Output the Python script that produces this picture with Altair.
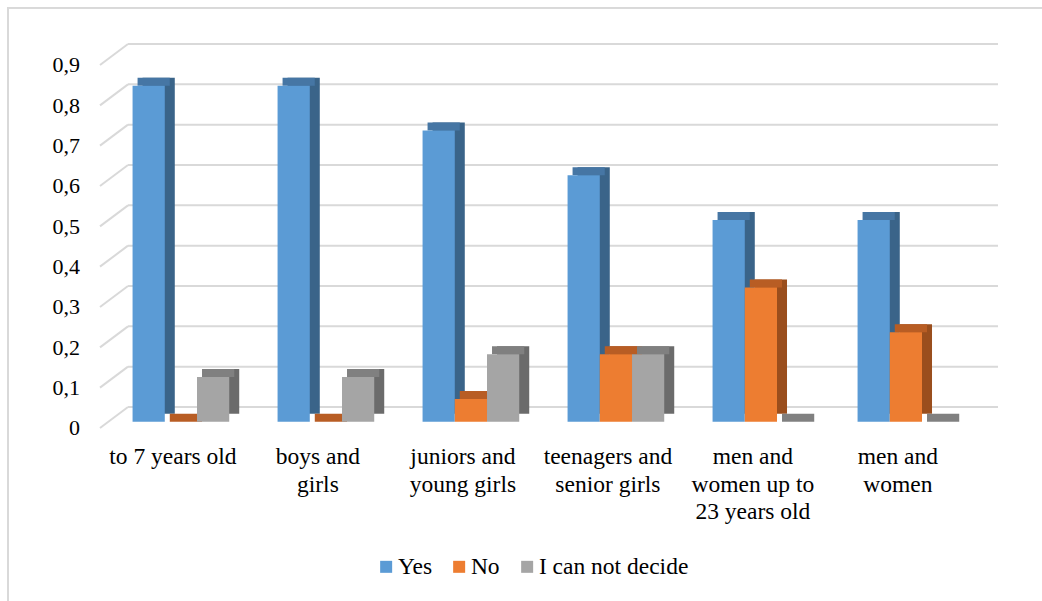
import altair as alt
import pandas as pd

# ---- data ----
categories = [
    "to 7 years old",
    "boys and\ngirls",
    "juniors and\nyoung girls",
    "teenagers and\nsenior girls",
    "men and\nwomen up to\n23 years old",
    "men and\nwomen",
]
series_names = ["Yes", "No", "I can not decide"]
yes_vals = [0.833, 0.833, 0.722, 0.611, 0.5, 0.5]
no_vals = [0.0, 0.0, 0.056, 0.167, 0.333, 0.222]
undecided_vals = [0.111, 0.111, 0.167, 0.167, 0.0, 0.0]
tick_values = [0, 0.1, 0.2, 0.3, 0.4, 0.5, 0.6, 0.7, 0.8, 0.9]

front_colors = ["#5B9BD5", "#ED7D31", "#A5A5A5"]
top_colors = ["#4676A4", "#B85D24", "#808080"]
side_colors = ["#3A6489", "#9A4E1D", "#6B6B6B"]

rows = []
for s, vals in zip(series_names, [yes_vals, no_vals, undecided_vals]):
    for c, v in zip(categories, vals):
        rows.append({"category": c, "series": s, "value": v})
df = pd.DataFrame(rows)
grid_df = pd.DataFrame({"tick": tick_values})

W, H = 870, 363
FONT = "Liberation Serif"
FS_Y = 22
FS_X = 23.5
GRID = "#D9D9D9"
# 3D geometry (pixels)
BACK_DX, BACK_DY = 19.6, -14.7
FRONT_DX, FRONT_DY = -8.4, 6.3
DEPTH_DX, DEPTH_DY = 10, -8


def x_enc(shift, show_axis):
    axis = alt.Axis(
        title=None, domain=False, ticks=False, tickSize=0, labelAngle=0,
        labelFont=FONT, labelFontSize=FS_X, labelColor="#000000",
        labelPadding=23, labelOffset=-8, labelBaseline="top",
        labelLineHeight=27.5, labelExpr="split(datum.label, '\\n')",
        labelLimit=300,
    ) if show_axis else None
    return alt.X(
        "category:N",
        sort=categories,
        scale=alt.Scale(paddingInner=1 / 3, paddingOuter=1 / 6,
                        range=[shift, W + shift]),
        axis=axis,
    )


xoff_enc = alt.XOffset("series:N", sort=series_names,
                       scale=alt.Scale(paddingInner=0, paddingOuter=0))
y_scale = alt.Scale(domain=[0, 0.9], nice=False, zero=True)
y_axis = alt.Axis(
    title=None, domain=False, ticks=False, tickSize=0, grid=False,
    values=tick_values, labelFont=FONT, labelFontSize=FS_Y, labelColor="#000000",
    labelPadding=29, labelOffset=6,
    labelExpr="datum.value == 0 ? '0' : replace(format(datum.value, '.1f'), '.', ',')",
)

gridlines = alt.Chart(grid_df).mark_rule(
    color=GRID, strokeWidth=2, xOffset=BACK_DX, x2Offset=BACK_DX, yOffset=BACK_DY
).encode(
    y=alt.Y("tick:Q", scale=y_scale, axis=y_axis),
    x=alt.value(0), x2=alt.value(W),
)

diagonals = alt.Chart(grid_df).mark_rule(
    color=GRID, strokeWidth=2, xOffset=FRONT_DX, x2Offset=BACK_DX,
    yOffset=FRONT_DY, y2Offset=BACK_DY
).encode(
    y=alt.Y("tick:Q", scale=y_scale, axis=y_axis),
    y2="tick:Q",
    x=alt.value(0), x2=alt.value(0),
)

frame_left = alt.Chart(grid_df).mark_rule(color=GRID, strokeWidth=1.5).encode(
    x=alt.value(-100.5), y=alt.value(-51), y2=alt.value(560)
)
frame_top = alt.Chart(grid_df).mark_rule(color=GRID, strokeWidth=1.5).encode(
    y=alt.value(-51), x=alt.value(-100.5), x2=alt.value(960)
)

side = alt.Chart(df).mark_bar(
    yOffset=DEPTH_DY, y2Offset=DEPTH_DY
).encode(
    x=x_enc(DEPTH_DX, False), xOffset=xoff_enc,
    y=alt.Y("value:Q", scale=y_scale, axis=y_axis),
    color=alt.Color("series:N", sort=series_names, legend=None,
                    scale=alt.Scale(domain=series_names, range=side_colors)),
)

top = alt.Chart(df).mark_bar(
    yOffset=DEPTH_DY, y2Offset=0
).encode(
    x=x_enc(DEPTH_DX / 2, False), xOffset=xoff_enc,
    y=alt.Y("value:Q", scale=y_scale, axis=y_axis),
    y2="value:Q",
    color=alt.Color("series:N", sort=series_names, legend=None,
                    scale=alt.Scale(domain=series_names, range=top_colors)),
)

front = alt.Chart(df).mark_bar().encode(
    x=x_enc(0, True), xOffset=xoff_enc,
    y=alt.Y("value:Q", scale=y_scale, axis=y_axis),
    color=alt.Color(
        "series:N", sort=series_names,
        scale=alt.Scale(domain=series_names, range=front_colors),
        legend=alt.Legend(
            title=None, orient="none", direction="horizontal",
            legendX=266, legendY=496, padding=0,
            symbolType="square", symbolSize=144, symbolStrokeWidth=0,
            labelFont=FONT, labelFontSize=FS_X, labelColor="#000000",
            labelOffset=0, columnPadding=15,
        ),
    ),
)

chart = alt.layer(
    frame_left, frame_top, gridlines, diagonals, side, top, front
).resolve_scale(
    color="independent", x="independent", xOffset="independent"
).properties(
    width=W, height=H,
    autosize=alt.AutoSizeParams(type="none"),
    padding={"left": 108.4, "top": 58.7, "right": 1042 - 108.4 - W, "bottom": 601 - 58.7 - H},
    background="white",
).configure_view(stroke=None)

chart.save("out.html", embed_options={"renderer": "svg", "actions": False})
